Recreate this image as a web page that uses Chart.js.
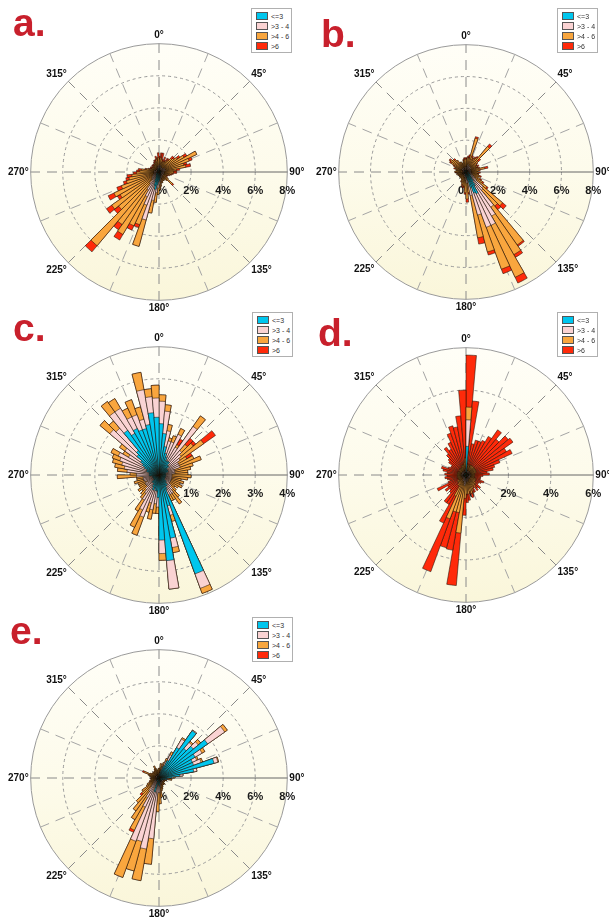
<!DOCTYPE html>
<html><head><meta charset="utf-8">
<script src="https://cdn.jsdelivr.net/npm/chart.js@4.4.1/dist/chart.umd.min.js"></script>
<style>
html,body{margin:0;padding:0;background:#fff;}
body{width:609px;height:919px;position:relative;overflow:hidden;font-family:"Liberation Sans",Arial,sans-serif;}
canvas{position:absolute;}
.letter{position:absolute;font-weight:bold;font-size:39px;line-height:38px;color:#c8202c;z-index:5;}
.legend{position:absolute;width:41px;border:1px solid #b0b0b0;background:#fff;z-index:5;padding-top:3px;box-sizing:border-box;}
.legend .row{height:10px;line-height:10px;font-size:7px;color:#333;white-space:nowrap;}
.legend .sw{display:inline-block;width:10px;height:6px;border:0.5px solid #555;margin:0 3px 0 4px;vertical-align:-1px;}
</style></head><body>
<div id="root"></div>
<script>
// ---- labels ----
const DIRECTION_LABELS = ['0°','','45°','','90°','','135°','','180°','','225°','','270°','','315°',''];
const SPEED_BINS = ['<=3','>3 - 4','>4 - 6','>6'];
const SPEED_COLORS = ['#00c6ee','#fad3d3','#f9a63e','#ff2a0a'];
const TICKS_8 = [0,2,4,6,8];
const TICK_LABELS_8 = ['0%','2%','4%','6%','8%'];
const TICKS_4 = [0,1,2,3,4];
const TICK_LABELS_4 = ['0%','1%','2%','3%','4%'];
const TICKS_6 = [0,2,4,6];
const TICK_LABELS_6 = ['0%','2%','4%','6%'];
// 72 direction bins of 5 degrees, bin i covers [5i, 5i+5) clockwise from north. Values in % frequency.
// ---- panel a ----
const A_LE3 = [0.2,0.2,0.2,0.1,0.1,0.1,0.1,0.1,0.1,0.1,0.1,0.1, 0.1,0.1,0.1,0.1,0.1,0.1,0.1,0.1,0.1,0.1,0.1,0.1, 0.1,0.1,0.1,0.1,0.1,0.1,0.2,0.2,0.2,0.3,0.4,0.5, 0.6,0.8,1.1,0.9,0.6,0.4,0.3,0.3,0.2,0.2,0.2,0.1, 0.1,0.1,0.1,0.1,0.1,0.1,0.1,0.1,0.1,0.1,0.1,0.1, 0.1,0.1,0.1,0.1,0.1,0.1,0.1,0.1,0.1,0.1,0.1,0.2];
const A_3_4 = [0.2,0.2,0.2,0.2,0.2,0.2,0.2,0.2,0.2,0.2,0.2,0.3, 0.3,0.3,0.3,0.3,0.2,0.2,0.2,0.2,0.2,0.2,0.1,0.1, 0.1,0.2,0.2,0.2,0.1,0.2,0.2,0.2,0.2,0.2,0.2,0.3, 0.4,0.5,0.7,2.2,1.6,1.3,1.0,0.6,0.4,0.4,0.3,0.3, 0.3,0.2,0.2,0.2,0.2,0.2,0.2,0.2,0.2,0.1,0.1,0.1, 0.1,0.1,0.1,0.1,0.1,0.1,0.1,0.1,0.2,0.2,0.2,0.2];
const A_4_6 = [0.4,0.5,0.4,0.3,0.4,0.4,0.5,0.6,0.8,0.9,1.1,1.4, 2.2,1.6,1.2,1.3,0.8,0.6,0.6,0.5,0.4,0.3,0.3,0.3, 0.3,0.4,0.8,0.4,0.3,0.3,0.2,0.2,0.3,0.2,0.3,0.3, 0.4,0.6,0.8,1.7,1.3,2.0,3.2,3.1,5.4,2.7,3.1,2.4, 2.7,2.2,1.8,1.6,1.4,1.1,0.9,0.8,0.5,0.4,0.3,0.3, 0.3,0.2,0.3,0.3,0.3,0.3,0.4,0.4,0.4,0.5,0.4,0.5];
const A_GT6 = [0.2,0.3,0.4,0.2,0.3,0.1,0.2,0.1,0.2,0.1,0.2,0.2, 0.0,0.2,0.2,0.3,0.2,0.2,0.2,0.1,0.1,0.1,0.1,0.0, 0.1,0.0,0.1,0.0,0.0,0.0,0.0,0.0,0.0,0.0,0.0,0.0, 0.0,0.0,0.0,0.0,0.2,0.3,0.4,0.4,0.5,0.35,0.4,0.2, 0.4,0.3,0.2,0.2,0.3,0.2,0.2,0.2,0.1,0.1,0.1,0.1, 0.1,0.1,0.1,0.1,0.1,0.1,0.1,0.2,0.1,0.2,0.2,0.3];
// ---- panel b ----
const B_LE3 = [0.1,0.1,0.1,0.1,0.1,0.1,0.1,0.1,0.1,0.1,0.1,0.1, 0.1,0.1,0.1,0.1,0.1,0.1,0.1,0.1,0.1,0.2,0.2,0.2, 0.3,0.3,0.4,0.5,0.7,1.0,1.5,1.4,1.0,0.5,0.3,0.3, 0.2,0.2,0.1,0.1,0.1,0.1,0.1,0.1,0.1,0.1,0.1,0.1, 0.1,0.1,0.1,0.1,0.1,0.1,0.1,0.1,0.1,0.1,0.1,0.1, 0.1,0.1,0.1,0.1,0.1,0.1,0.1,0.1,0.1,0.1,0.1,0.1];
const B_3_4 = [0.2,0.2,0.3,0.4,0.3,0.3,0.3,0.3,0.3,0.3,0.2,0.2, 0.2,0.2,0.2,0.2,0.2,0.2,0.2,0.2,0.2,0.2,0.2,0.3, 0.3,0.5,1.0,1.0,2.0,2.2,2.2,2.3,1.8,1.0,0.4,0.4, 0.3,0.2,0.2,0.2,0.2,0.1,0.1,0.1,0.1,0.1,0.1,0.1, 0.1,0.1,0.1,0.1,0.1,0.1,0.1,0.1,0.1,0.1,0.1,0.1, 0.2,0.2,0.2,0.2,0.2,0.1,0.1,0.1,0.1,0.2,0.2,0.2];
const B_4_6 = [0.5,0.6,0.5,1.7,0.6,0.5,0.6,0.7,1.7,0.6,0.5,0.4, 0.5,0.4,0.5,0.9,0.5,0.4,0.5,0.4,0.5,0.5,0.4,0.5, 0.6,0.8,1.6,1.3,2.9,2.8,3.6,2.8,2.4,2.7,0.6,1.0, 0.8,0.5,0.6,0.5,0.4,0.4,0.3,0.3,0.3,0.3,0.3,0.3, 0.3,0.3,0.3,0.4,0.3,0.4,0.5,0.4,0.4,0.5,0.5,0.6, 0.8,0.9,0.8,0.7,0.6,0.5,0.5,0.4,0.4,0.4,0.5,0.5];
const B_GT6 = [0.1,0.1,0.2,0.1,0.1,0.1,0.1,0.1,0.2,0.2,0.1,0.1, 0.1,0.1,0.1,0.2,0.1,0.0,0.1,0.1,0.0,0.1,0.0,0.1, 0.1,0.1,0.3,0.3,0.1,0.2,0.4,0.3,0.2,0.4,0.1,0.2, 0.1,0.1,0.1,0.1,0.0,0.1,0.0,0.0,0.0,0.0,0.0,0.0, 0.0,0.0,0.0,0.0,0.0,0.1,0.0,0.0,0.0,0.1,0.0,0.1, 0.1,0.1,0.0,0.1,0.0,0.0,0.0,0.0,0.0,0.1,0.1,0.1];
// ---- panel c ----
const C_LE3 = [1.6,1.3,0.9,0.7,0.6,0.5,0.5,0.5,0.4,0.4,0.3,0.3, 0.3,0.3,0.2,0.2,0.2,0.2,0.2,0.2,0.2,0.2,0.2,0.2, 0.2,0.2,0.3,0.3,0.4,0.4,0.5,3.28,1.0,2.0,2.68,2.03, 0.7,0.5,0.5,0.4,0.5,0.4,0.3,0.3,0.3,0.2,0.2,0.2, 0.2,0.2,0.2,0.2,0.2,0.3,0.3,0.3,0.3,0.4,0.4,0.5, 0.6,0.7,0.9,1.0,1.7,1.5,1.6,1.5,1.5,1.6,1.95,1.8];
const C_3_4 = [0.7,0.7,0.5,0.4,0.5,0.9,0.5,1.35,0.6,0.5,0.5,0.4, 0.4,0.4,0.3,0.3,0.3,0.2,0.2,0.2,0.2,0.2,0.2,0.2, 0.2,0.2,0.2,0.3,0.3,0.3,0.2,0.48,0.3,0.3,0.89,0.42, 0.3,0.4,0.6,0.5,0.9,0.8,0.6,0.4,0.3,0.3,0.3,0.3, 0.2,0.3,0.3,0.3,0.3,0.4,0.4,0.7,0.8,0.8,0.9,0.9, 0.5,0.6,1.1,0.9,0.7,0.9,0.4,0.5,0.3,1.1,0.5,0.6];
const C_4_6 = [0.2,0.2,0.2,0.1,0.2,0.2,0.1,0.4,0.25,0.5,0.9,0.3, 0.5,0.7,0.6,0.5,0.4,0.5,0.6,0.5,0.3,0.4,0.3,0.4, 0.3,0.2,0.2,0.3,0.4,0.2,0.2,0.17,0.2,0.16,0.0,0.21, 0.2,0.3,0.3,0.3,0.6,0.6,0.4,0.2,0.2,0.2,0.3,0.2, 0.3,0.2,0.3,0.2,0.2,0.6,0.2,0.3,0.3,0.3,0.25,0.25, 0.2,0.2,0.4,0.3,0.4,0.35,0.3,0.5,0.4,0.55,0.25,0.4];
const C_GT6 = [0,0,0,0,0,0,0.2,0,0.25,0.1,0.45,0.2, 0,0,0,0,0,0,0,0,0,0,0,0, 0,0,0,0,0,0,0,0,0,0,0,0, 0,0,0,0,0,0,0,0,0,0,0,0, 0,0,0,0,0,0,0,0,0,0,0,0, 0,0,0,0,0,0,0,0,0,0,0,0];
// ---- panel d ----
const D_LE3 = [1.35,0.1,0.1,0.1,0.1,0.1,0.1,0.1,0.1,0.1,0.1,0.1, 0.1,0.1,0.1,0.1,0.1,0.1,0.1,0.1,0.1,0.1,0.1,0.1, 0.1,0.1,0.1,0.1,0.1,0.1,0.1,0.1,0.1,0.1,0.1,0.1, 0.1,0.2,0.1,0.1,0.1,0.1,0.1,0.1,0.1,0.1,0.1,0.1, 0.1,0.1,0.1,0.1,0.1,0.1,0.1,0.1,0.1,0.1,0.1,0.1, 0.1,0.1,0.1,0.1,0.1,0.1,0.1,0.1,0.1,0.1,0.1,0.1];
const D_3_4 = [1.25,0.1,0.1,0.1,0.1,0.1,0.1,0.1,0.1,0.1,0.1,0.1, 0.1,0.1,0.1,0.1,0.1,0.1,0.1,0.1,0.1,0.1,0.1,0.1, 0.1,0.1,0.1,0.1,0.1,0.1,0.1,0.1,0.2,0.2,0.2,0.2, 0.3,0.3,0.3,0.2,0.2,0.2,0.1,0.1,0.1,0.1,0.1,0.1, 0.1,0.1,0.1,0.1,0.1,0.1,0.1,0.1,0.1,0.1,0.1,0.1, 0.1,0.1,0.1,0.1,0.1,0.1,0.1,0.1,0.1,0.1,0.1,0.2];
const D_4_6 = [0.6,0.3,0.2,0.3,0.2,0.3,0.3,0.3,0.3,0.3,0.3,0.3, 0.3,0.3,0.3,0.2,0.2,0.2,0.2,0.2,0.2,0.2,0.3,0.3, 0.3,0.3,0.4,0.4,0.5,0.4,0.5,0.6,0.6,0.5,0.6,0.6, 0.7,2.25,1.4,1.5,1.9,0.8,0.4,0.4,0.3,0.3,0.3,0.2, 0.2,0.2,0.2,0.2,0.2,0.2,0.2,0.2,0.2,0.2,0.2,0.1, 0.1,0.2,0.2,0.2,0.2,0.2,0.2,0.3,0.3,0.3,0.4,0.5];
const D_GT6 = [2.45,3.0,1.1,1.2,1.3,1.3,1.6,2.1,1.7,2.1,2.2,1.7, 1.9,1.2,0.9,0.9,0.6,0.7,0.4,0.3,0.3,0.3,0.4,0.3, 0.2,0.2,0.3,0.2,0.2,0.1,0.2,0.1,0.2,0.1,0.3,0.4, 0.8,2.48,1.8,1.75,2.65,1.4,1.0,1.0,0.6,0.5,0.7,0.6, 1.1,0.5,0.4,0.5,0.6,0.5,0.6,0.5,0.7,0.8,0.5,0.5, 0.5,0.6,0.7,0.9,1.2,1.0,1.3,1.6,1.9,1.8,2.2,3.2];
// ---- panel e ----
const E_LE3 = [0.2,0.2,0.3,0.5,0.8,1.2,2.2,3.6,2.4,2.8,3.7,2.6, 2.3,2.3,3.55,2.2,1.3,0.8,0.5,0.5,0.3,0.3,0.2,0.2, 0.2,0.2,0.2,0.2,0.2,0.2,0.2,0.2,0.2,0.2,0.3,0.5, 0.3,0.4,0.3,0.9,0.2,0.2,0.2,0.2,0.2,0.1,0.1,0.1, 0.1,0.1,0.1,0.1,0.1,0.1,0.1,0.1,0.1,0.1,0.1,0.1, 0.1,0.1,0.1,0.1,0.1,0.1,0.1,0.1,0.1,0.1,0.1,0.1];
const E_3_4 = [0.1,0.1,0.1,0.2,0.3,0.4,0.6,0.05,0.5,0.4,1.3,0.5, 0.3,0.5,0.25,0.2,0.2,0.1,0.1,0.1,0.1,0.1,0.1,0.1, 0.1,0.1,0.1,0.1,0.1,0.1,0.1,0.2,0.2,0.2,0.3,0.4, 0.6,3.4,4.2,3.2,4.0,1.8,1.2,0.8,0.5,0.4,0.3,0.2, 0.2,0.1,0.1,0.1,0.1,0.1,0.1,0.1,0.1,0.1,0.1,0.1, 0.1,0.1,0.1,0.1,0.1,0.1,0.1,0.1,0.1,0.1,0.1,0.1];
const E_4_6 = [0.3,0.6,0.3,0.3,0.2,0.2,0.1,0.0,0.1,0.2,0.2,0.2, 0.1,0.1,0.05,0.0,0.0,0.1,0.1,0.2,0.1,0.1,0.1,0.1, 0.1,0.1,0.1,0.2,0.2,0.2,0.2,0.2,0.3,0.4,0.6,0.7, 1.2,1.6,2.0,1.9,2.4,1.6,1.6,1.5,1.3,0.9,0.9,0.6, 0.5,0.4,0.4,0.3,0.3,0.3,0.3,0.3,0.4,0.5,0.8,0.4, 0.3,0.3,0.3,0.3,0.3,0.3,0.4,0.6,0.4,0.3,0.3,0.4];
const E_GT6 = [0,0,0,0,0,0,0,0,0,0,0,0, 0,0,0,0,0,0,0,0,0,0,0,0, 0,0,0,0,0,0,0,0,0,0,0,0, 0,0,0,0,0,0.15,0,0,0,0.15,0,0, 0,0.05,0,0,0,0.05,0,0,0,0,0.1,0, 0,0,0,0,0,0,0,0,0,0,0,0];

// ---- panel layout ----
const PANELS = [
  {letter:'a.', series:[A_LE3,A_3_4,A_4_6,A_GT6], max:8, step:2, ticks:TICKS_8, tickLabels:TICK_LABELS_8, size:302, left:6,   top:21,  letterPos:[13,4],   legendPos:[251,8]},
  {letter:'b.', series:[B_LE3,B_3_4,B_4_6,B_GT6], max:8, step:2, ticks:TICKS_8, tickLabels:TICK_LABELS_8, size:300, left:314, top:22,  letterPos:[321,15], legendPos:[557,8]},
  {letter:'c.', series:[C_LE3,C_3_4,C_4_6,C_GT6], max:4, step:1, ticks:TICKS_4, tickLabels:TICK_LABELS_4, size:302, left:6,   top:324, letterPos:[13,309], legendPos:[252,312]},
  {letter:'d.', series:[D_LE3,D_3_4,D_4_6,D_GT6], max:6, step:2, ticks:TICKS_6, tickLabels:TICK_LABELS_6, size:300, left:314, top:325, letterPos:[318,314], legendPos:[557,312]},
  {letter:'e.', series:[E_LE3,E_3_4,E_4_6,E_GT6], max:8, step:2, ticks:TICKS_8, tickLabels:TICK_LABELS_8, size:302, left:6,   top:627, letterPos:[10,612], legendPos:[252,617]}
];

const FONT = '"Liberation Sans", Arial, sans-serif';

const roseBackground = {
  id: 'roseBackground',
  beforeDraw(chart) {
    const s = chart.scales.r, ctx = chart.ctx;
    const g = ctx.createLinearGradient(0, s.yCenter - s.drawingArea, 0, s.yCenter + s.drawingArea);
    g.addColorStop(0, '#fffef7');
    g.addColorStop(0.5, '#fdfbeb');
    g.addColorStop(1, '#faf6da');
    ctx.save();
    ctx.beginPath();
    ctx.arc(s.xCenter, s.yCenter, s.drawingArea, 0, Math.PI * 2);
    ctx.fillStyle = g;
    ctx.fill();
    ctx.restore();
  }
};

const percentTicks = {
  id: 'percentTicks',
  beforeDatasetsDraw(chart, args, opts) {
    const s = chart.scales.r, ctx = chart.ctx;
    ctx.save();
    ctx.font = 'bold 11px ' + FONT;
    ctx.fillStyle = '#1a1a1a';
    ctx.textAlign = 'center';
    ctx.textBaseline = 'middle';
    opts.values.forEach((v, k) => {
      ctx.fillText(opts.labels[k], s.xCenter + s.getDistanceFromCenterForValue(v), s.yCenter + 19);
    });
    ctx.restore();
  }
};

function cumulate(series) {
  const out = [];
  let run = series[0].map(() => 0);
  series.forEach(s => {
    run = run.map((v, i) => Math.round((v + s[i]) * 1000) / 1000);
    out.push(run.slice());
  });
  return out;
}

const root = document.getElementById('root');
PANELS.forEach((p) => {
  const cv = document.createElement('canvas');
  cv.width = p.size; cv.height = p.size;
  cv.style.left = p.left + 'px'; cv.style.top = p.top + 'px';
  cv.style.width = p.size + 'px'; cv.style.height = p.size + 'px';
  root.appendChild(cv);

  const lt = document.createElement('div');
  lt.className = 'letter'; lt.textContent = p.letter;
  lt.style.left = p.letterPos[0] + 'px'; lt.style.top = p.letterPos[1] + 'px';
  root.appendChild(lt);

  const lg = document.createElement('div');
  lg.className = 'legend';
  lg.style.left = p.legendPos[0] + 'px'; lg.style.top = p.legendPos[1] + 'px';
  SPEED_BINS.forEach((name, k) => {
    const row = document.createElement('div'); row.className = 'row';
    const sw = document.createElement('span'); sw.className = 'sw'; sw.style.background = SPEED_COLORS[k];
    row.appendChild(sw); row.appendChild(document.createTextNode(name));
    lg.appendChild(row);
  });
  root.appendChild(lg);

  const cum = cumulate(p.series);
  const datasets = cum.map((d, k) => ({
    label: SPEED_BINS[k],
    data: d,
    backgroundColor: SPEED_COLORS[k],
    borderColor: 'rgba(25,15,5,0.9)',
    borderWidth: 0.6
  }));

  new Chart(cv.getContext('2d'), {
    type: 'polarArea',
    data: { labels: DIRECTION_LABELS, datasets },
    options: {
      responsive: false,
      animation: false,
      layout: { padding: 0 },
      plugins: {
        legend: { display: false },
        tooltip: { enabled: false },
        percentTicks: { values: p.ticks, labels: p.tickLabels }
      },
      scales: {
        r: {
          min: 0, max: p.max,
          startAngle: 0,
          ticks: { display: false, stepSize: p.step },
          grid: { circular: true, color: '#9a9a9a', lineWidth: 1 },
          border: { dash: (c) => (c.tick && c.tick.value === p.max) ? [] : [3, 3] },
          angleLines: {
            display: true,
            color: (c) => c.index === 4 ? '#666' : (c.index % 2 === 0 ? '#8a8a8a' : '#a5a5a5'),
            lineWidth: 1,
            borderDash: (c) => c.index === 4 ? [] : [10, 7]
          },
          pointLabels: {
            display: true,
            padding: 2,
            color: '#111',
            font: { size: 10, weight: 'bold', family: FONT }
          }
        }
      }
    },
    plugins: [roseBackground, percentTicks]
  });
});
</script>
</body></html>
